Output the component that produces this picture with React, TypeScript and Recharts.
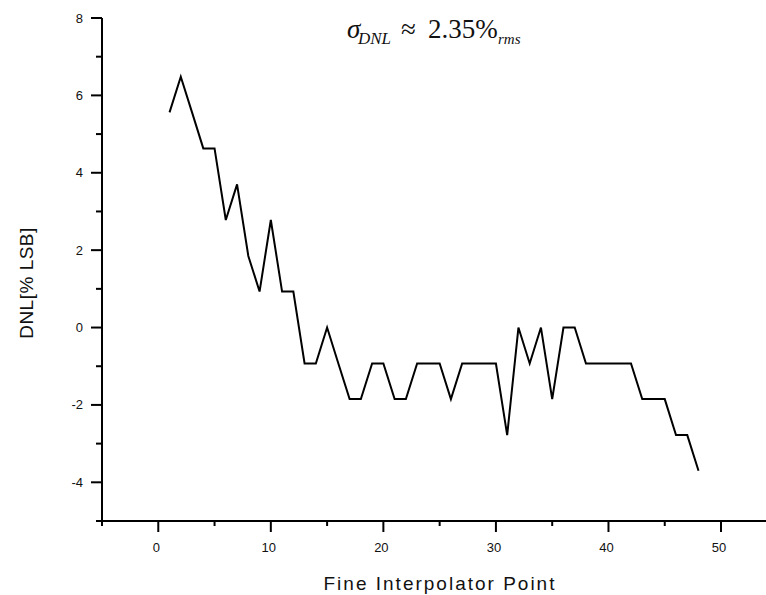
import React from "react";
import { LineChart, Line, XAxis, YAxis } from "recharts";

// fine interpolator point index
const points = [
  1, 2, 3, 4, 5, 6, 7, 8, 9, 10, 11, 12, 13, 14, 15, 16, 17, 18, 19, 20, 21, 22, 23, 24,
  25, 26, 27, 28, 29, 30, 31, 32, 33, 34, 35, 36, 37, 38, 39, 40, 41, 42, 43, 44, 45, 46, 47, 48,
];

// DNL in % of LSB
const dnl = [
  5.56, 6.48, 5.56, 4.63, 4.63, 2.78, 3.7, 1.85, 0.93, 2.78, 0.93, 0.93, -0.93, -0.93, 0, -0.93,
  -1.85, -1.85, -0.93, -0.93, -1.85, -1.85, -0.93, -0.93, -0.93, -1.85, -0.93, -0.93, -0.93, -0.93,
  -2.78, 0, -0.93, 0, -1.85, 0, 0, -0.93, -0.93, -0.93, -0.93, -0.93, -1.85, -1.85, -1.85, -2.78,
  -2.78, -3.7,
];

const xTicks = [-5, 0, 5, 10, 15, 20, 25, 30, 35, 40, 45, 50, 55];
const yTicks = [-5, -4, -3, -2, -1, 0, 1, 2, 3, 4, 5, 6, 7, 8];

const data = points.map((p, i) => ({ point: p, dnl: dnl[i] }));

const sans = "'Liberation Sans', Arial, sans-serif";
const serif = "'Liberation Serif', 'Times New Roman', serif";

const XTick = (props: any) => {
  const { x, y, payload } = props;
  const v = payload.value;
  const major = v % 10 === 0;
  return (
    <g>
      <line x1={x} y1={y} x2={x} y2={y + (major ? 11 : 5)} stroke="#000" strokeWidth={2} />
      {v === -5 && <line x1={x} y1={y} x2={x - 6} y2={y} stroke="#000" strokeWidth={2} />}
      {major && (
        <text x={x - 2} y={552} textAnchor="middle" fontSize={13} fontFamily={sans} fill="#111">
          {v}
        </text>
      )}
    </g>
  );
};

const YTick = (props: any) => {
  const { x, y, payload } = props;
  const v = payload.value;
  const major = v % 2 === 0;
  return (
    <g>
      <line x1={x} y1={y} x2={x - (major ? 11 : 6)} y2={y} stroke="#000" strokeWidth={2} />
      {v === -5 && <line x1={x} y1={y} x2={x} y2={y + 5} stroke="#000" strokeWidth={2} />}
      {major && (
        <text x={x - 19} y={y + 4.5} textAnchor="end" fontSize={13} fontFamily={sans} fill="#111">
          {v}
        </text>
      )}
    </g>
  );
};

export default function App() {
  return (
    <div style={{ position: "relative", width: 766, height: 595, overflow: "hidden", background: "#fff" }}>
      <style>{"body{margin:0}"}</style>
      <LineChart width={790} height={595} data={data} margin={{ top: 18, right: 12.7, bottom: 0, left: 0 }}>
        <XAxis
          dataKey="point"
          type="number"
          domain={[-5, 55]}
          ticks={xTicks}
          interval={0}
          height={74}
          tickSize={0}
          tickMargin={0}
          tickLine={false}
          tick={<XTick />}
          axisLine={{ stroke: "#000", strokeWidth: 2 }}
        />
        <YAxis
          type="number"
          domain={[-5, 8]}
          ticks={yTicks}
          interval={0}
          width={102}
          tickSize={0}
          tickMargin={0}
          tickLine={false}
          tick={<YTick />}
          axisLine={{ stroke: "#000", strokeWidth: 2 }}
        />
        <Line
          type="linear"
          dataKey="dnl"
          stroke="#000"
          strokeWidth={2}
          dot={false}
          isAnimationActive={false}
        />
      </LineChart>
      <svg
        width={766}
        height={595}
        style={{ position: "absolute", left: 0, top: 0, pointerEvents: "none" }}
      >
        <text x={440} y={590} textAnchor="middle" fontSize={19} letterSpacing={2} fontFamily={sans} fill="#111">
          Fine Interpolator Point
        </text>
        <text
          x={26}
          y={283}
          transform="rotate(-90, 26, 283)"
          textAnchor="middle"
          dominantBaseline="central"
          fontSize={19}
          letterSpacing={0.5}
          fontFamily={sans}
          fill="#111"
        >
          DNL[% LSB]
        </text>
        <g fontFamily={serif} fill="#111">
          <text x={347} y={38} fontSize={27} fontStyle="italic">σ</text>
          <text x={358} y={44} fontSize={17} fontStyle="italic">DNL</text>
          <text x={401} y={38} fontSize={27}>≈</text>
          <text x={428} y={38} fontSize={27}>2.35%</text>
          <text x={498} y={44} fontSize={15} fontStyle="italic">rms</text>
        </g>
      </svg>
    </div>
  );
}
